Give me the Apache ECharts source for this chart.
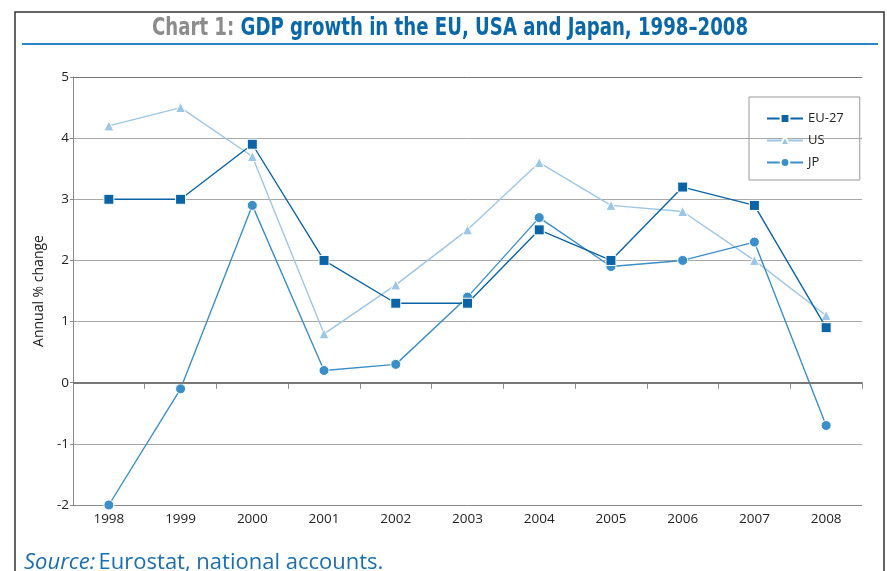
<!DOCTYPE html>
<html><head><meta charset="utf-8">
<script src="https://cdn.jsdelivr.net/npm/echarts@6/dist/echarts.min.js"></script>
<style>html,body{margin:0;padding:0;background:#fff}#c{width:887px;height:571px}</style>
</head><body><div id="c"></div>
<script>
var years = ['1998','1999','2000','2001','2002','2003','2004','2005','2006','2007','2008'];
var eu27 = [3.0, 3.0, 3.9, 2.0, 1.3, 1.3, 2.5, 2.0, 3.2, 2.9, 0.9];
var us   = [4.2, 4.5, 3.7, 0.8, 1.6, 2.5, 3.6, 2.9, 2.8, 2.0, 1.1];
var jp   = [-2.0, -0.1, 2.9, 0.2, 0.3, 1.4, 2.7, 1.9, 2.0, 2.3, -0.7];
var seriesNames = ['EU-27', 'US', 'JP'];

var FONT = '"Open Sans", "Noto Sans", sans-serif';
var TFONT = '"Liberation Sans Narrow", "DejaVu Sans Condensed", sans-serif';
var chart = echarts.init(document.getElementById('c'));
chart.setOption({
  animation: false,
  backgroundColor: '#fff',
  graphic: [
    {type: 'rect', shape: {x: 15, y: 12, width: 869, height: 600}, style: {fill: 'none', stroke: '#333', lineWidth: 1.5}, silent: true},
    {type: 'line', shape: {x1: 22, y1: 44, x2: 878, y2: 44}, style: {stroke: '#2a86c8', lineWidth: 2}, silent: true},
    {type: 'text', x: 450, y: 29, scaleX: 0.84, silent: true, style: {
      text: '{g|Chart 1: }{b|GDP growth in the EU, USA and Japan, 1998\u20132008}',
      x: 0, y: 0, align: 'center', verticalAlign: 'middle',
      rich: {
        g: {fontFamily: TFONT, fontWeight: 'bold', fontSize: 24, fill: '#8c8c8c'},
        b: {fontFamily: TFONT, fontWeight: 'bold', fontSize: 24, fill: '#0a67a8'}
      }
    }},
    {type: 'text', left: 24, top: 552, silent: true, style: {
      text: '{i|Source:} {n|Eurostat, national accounts.}',
      rich: {
        i: {fontFamily: FONT, fontStyle: 'italic', fontSize: 22, fill: '#1a6fb0'},
        n: {fontFamily: FONT, fontSize: 22, fill: '#1a6fb0'}
      }
    }}
  ],
  legend: {
    data: seriesNames,
    orient: 'vertical',
    left: 749, top: 97,
    padding: [15, 16, 11, 17],
    itemWidth: 36, itemHeight: 11, itemGap: 9,
    borderColor: '#999', borderWidth: 1,
    textStyle: {fontFamily: FONT, fontSize: 13, color: '#222'}
  },
  grid: {left: 73, right: 25, top: 77, bottom: 66},
  xAxis: {
    type: 'category', data: years, boundaryGap: true,
    axisLine: {lineStyle: {color: '#888', width: 1}},
    axisTick: {show: true, length: 6, lineStyle: {color: '#888'}},
    axisLabel: {fontFamily: FONT, fontSize: 13.5, color: '#222', margin: 7}
  },
  yAxis: {
    type: 'value', min: -2, max: 5, interval: 1,
    name: 'Annual % change', nameLocation: 'middle', nameGap: 19,
    nameTextStyle: {fontFamily: FONT, fontSize: 14, color: '#222'},
    axisLine: {show: true, lineStyle: {color: '#888'}},
    axisTick: {show: true, length: 3, lineStyle: {color: '#888'}},
    axisLabel: {fontFamily: FONT, fontSize: 13.5, color: '#222', margin: 4},
    splitLine: {show: true, lineStyle: {color: ['#888', '#a8a8a8', '#777', '#a8a8a8', '#a8a8a8', '#a8a8a8', '#a8a8a8', '#777'], width: 1}}
  },
  series: [
    {name: 'EU-27', type: 'line', data: eu27, symbol: 'rect', symbolSize: 10,
     lineStyle: {color: '#0a64a6', width: 1.4}, itemStyle: {color: '#0a64a6', borderColor: '#fff', borderWidth: 1}, z: 4,
     markLine: {silent: true, symbol: 'none', label: {show: false}, lineStyle: {color: '#777', width: 2, type: 'solid'}, data: [{yAxis: 0}]}},
    {name: 'US', type: 'line', data: us, symbol: 'triangle', symbolSize: 10,
     lineStyle: {color: '#9dc6e4', width: 1.4}, itemStyle: {color: '#9dc6e4', borderColor: '#fff', borderWidth: 1}, z: 2},
    {name: 'JP', type: 'line', data: jp, symbol: 'circle', symbolSize: 10,
     lineStyle: {color: '#3b8fc8', width: 1.4}, itemStyle: {color: '#3b8fc8', borderColor: '#fff', borderWidth: 1}, z: 3}
  ]
});
</script></body></html>
